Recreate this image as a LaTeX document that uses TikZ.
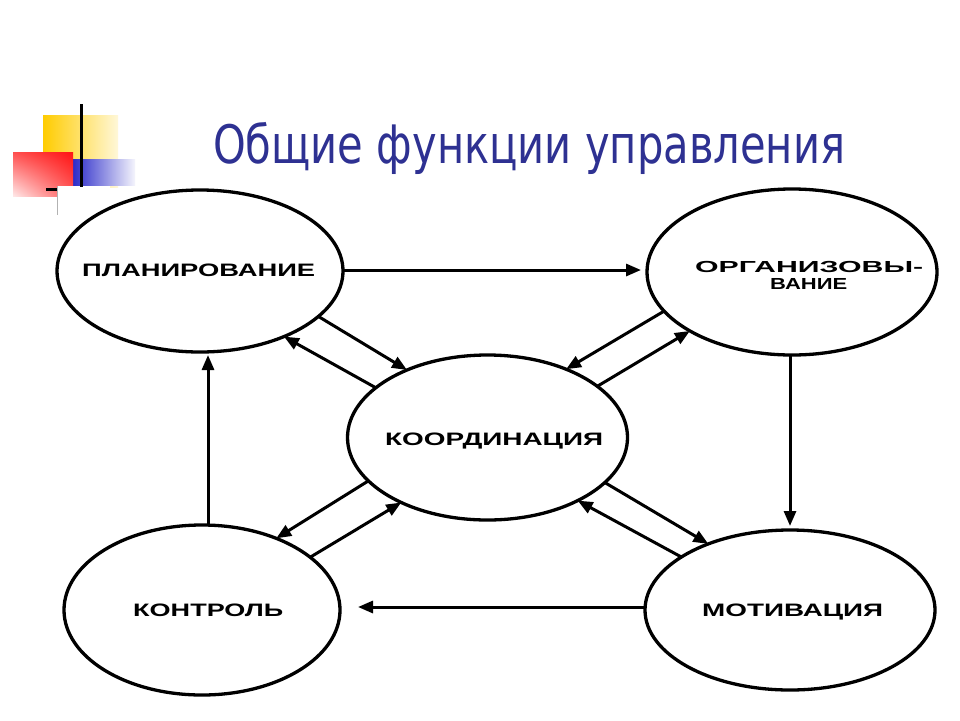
\documentclass[tikz,border=0pt]{standalone}
\usepackage{fontspec}
\setmainfont{Liberation Sans}
\newfontfamily\titlefont{DejaVu Sans}
\usetikzlibrary{shapes.geometric,arrows.meta,calc,shadings}
\definecolor{titleblue}{RGB}{46,49,146}
\definecolor{ylw}{RGB}{255,204,0}
\definecolor{blu}{RGB}{40,40,200}
\definecolor{rd}{RGB}{255,20,20}
\begin{document}
\begin{tikzpicture}[x=1pt,y=-1pt,
  bubble/.style={draw,ellipse,line width=3.3pt,inner sep=0pt,outer sep=0pt},
  arr/.style={line width=3pt,-{Triangle[length=15pt,width=12pt]}},
  lbl/.style={anchor=base west,inner sep=0pt,font=\bfseries\fontsize{18}{18}\selectfont},
  lblsmall/.style={lbl,font=\bfseries\fontsize{16}{16}\selectfont}]
\useasboundingbox[fill=white] (0,0) rectangle (960,720);
% decoration
\shade[left color=ylw,middle color=ylw!90!white,right color=ylw!15!white] (43,115) rectangle (118,187);
\shade[left color=blu,middle color=blu!80!white,right color=blu!5!white] (72,159) rectangle (135,185);
\shade[upper right=rd,upper left=rd!75!white,lower right=rd!70!white,lower left=rd!10!white] (13,152) rectangle (73,196);
\fill[white] (57,186) rectangle (110,215);
\draw[gray!60,line width=0.8pt] (57,186) -- (57,215);
\draw[black,line width=3pt] (81,104) -- (81,187);
\draw[black,line width=3pt] (46,189) -- (57,189);
% title
\node[anchor=base west,inner sep=0pt,text=titleblue,font=\titlefont\fontsize{53}{53}\selectfont] (title) at (213,163) {\resizebox{632pt}{\height}{Общие функции управления}};
% ellipses
\node[bubble,minimum width=286pt,minimum height=162pt] (plan) at (200,271) {};
\node[bubble,minimum width=290pt,minimum height=166pt] (org) at (792,272) {};
\node[bubble,minimum width=280pt,minimum height=165pt] (coord) at (487.5,437.5) {};
\node[bubble,minimum width=276pt,minimum height=170pt] (kon) at (202,610) {};
\node[bubble,minimum width=290pt,minimum height=160pt] (mot) at (790,610) {};
% labels
\node[lbl] (tplan) at (82,276) {\resizebox{233pt}{\height}{ПЛАНИРОВАНИЕ}};
\node[lblsmall] (torg1) at (695,272) {\resizebox{228pt}{\height}{ОРГАНИЗОВЫ-}};
\node[lblsmall] (torg2) at (770,289) {\resizebox{77pt}{\height}{ВАНИЕ}};
\node[lbl] (tcoord) at (385,445) {\resizebox{218pt}{\height}{КООРДИНАЦИЯ}};
\node[lbl] (tkon) at (133,616) {\resizebox{150pt}{\height}{КОНТРОЛЬ}};
\node[lbl] (tmot) at (702,616) {\resizebox{181pt}{\height}{МОТИВАЦИЯ}};
% outer arrows
\draw[arr,shorten >=6pt] ([yshift=1pt]plan.east) -- ([yshift=2pt]org.west);
\draw[arr,shorten >=4pt] ([xshift=-2pt]org.south) -- (mot.north);
\draw[arr,shorten >=18pt] ([yshift=3pt]mot.west) -- ([yshift=3pt]kon.east);
\draw[arr,shorten >=3pt] ([xshift=6pt]kon.north) -- ([xshift=8pt]plan.south);
% diagonal arrows
\draw[arr] (plan.-21.9) -- (coord.140.6);
\draw[arr] (coord.156.8) -- (plan.-38.8);
\draw[arr] (org.197.3) -- (coord.41.8);
\draw[arr] (coord.25.3) -- (org.210.4);
\draw[arr] (coord.200.4) -- (kon.44.3);
\draw[arr] (kon.26.2) -- (coord.217.5);
\draw[arr] (coord.-21.5) -- (mot.141.7);
\draw[arr] (mot.154.4) -- (coord.-35.1);
\end{tikzpicture}
\end{document}
